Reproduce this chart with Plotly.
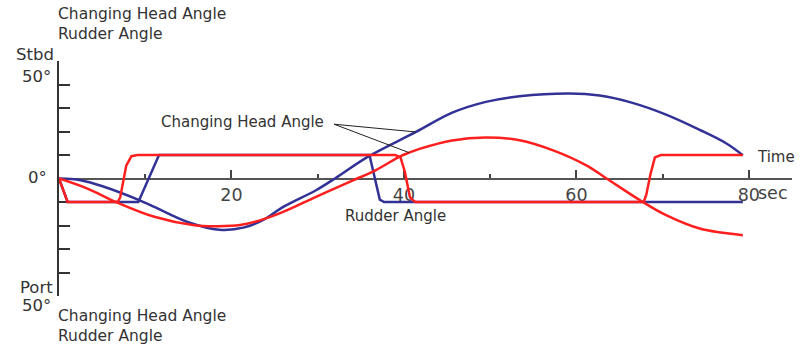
import plotly.graph_objects as go

# ---- data: zig-zag manoeuvre, two ships (red / blue) ----
# heading change (deg, + = starboard) against time (sec)
red_head_t = [0, 3.3, 6.6, 11.05, 15.7, 18.5, 21.0, 23.3, 26.0, 29.8, 33.7, 36.7,
              39.5, 40.6, 41.8, 45.6, 49.5, 53.4, 57.3, 61.1, 63.5, 67.7, 70.4, 74.3, 79.3]
red_head = [0, -4.3, -10.0, -16.3, -19.9, -20.3, -19.8, -17.8, -14.2, -7.8, -1.4, 3.5,
            9.3, 11.0, 12.6, 16.2, 17.4, 16.3, 12.0, 5.7, 0, -10.0, -15.6, -21.3, -24.1]

blue_head_t = [0, 2.5, 5.3, 9.3, 11.05, 14.9, 18.6, 21.5, 23.8, 26.0, 29.8, 32.0,
               35.8, 41.4, 45.6, 49.5, 53.4, 59.2, 62.7, 66.5, 70.4, 74.3, 77.4, 79.3]
blue_head = [0, -0.7, -3.6, -9.2, -12.1, -18.5, -21.8, -20.8, -17.4, -12.1, -5.0, 0,
             9.2, 19.8, 28.0, 32.6, 35.0, 36.2, 35.3, 32.2, 27.2, 20.7, 14.9, 9.9]

# rudder angle (deg)
red_rudder_t = [0, 1.0, 6.8, 7.1, 7.8, 8.4, 9.1, 39.0, 39.6, 40.1, 40.7, 41.3,
                67.8, 68.1, 68.6, 69.1, 69.8, 79.3]
red_rudder = [0, -10, -10, -8, 5.5, 9.5, 10, 10, 9, 3, -8, -10,
              -10, -7, 2, 9, 10, 10]

blue_rudder_t = [0, 1.0, 9.2, 11.6, 36.0, 37.2, 37.7, 79.3]
blue_rudder = [0, -10, -10, 10, 10, -9, -10, -10]

x_ticks = [20, 40, 60, 80]
x_minor = [10, 30, 50, 70]

RED = "#ff1f1f"
BLUE = "#323296"
TXT = "#333333"
FONT = "DejaVu Sans"

# plot area geometry (pixels)
W, H = 800, 348
L, R, T, B = 59, 8, 61, 52
PW, PH = W - L - R, H - T - B


def px(x):
    return (x - L) / PW


def py(y):
    return (H - B - y) / PH


fig = go.Figure()
fig.add_trace(go.Scatter(x=blue_rudder_t, y=blue_rudder, mode="lines",
                         line=dict(color=BLUE, width=2.5), name="blue rudder"))
fig.add_trace(go.Scatter(x=blue_head_t, y=blue_head, mode="lines",
                         line=dict(color=BLUE, width=2.5, shape="spline", smoothing=1.0),
                         name="blue head"))
fig.add_trace(go.Scatter(x=red_head_t, y=red_head, mode="lines",
                         line=dict(color=RED, width=2.5, shape="spline", smoothing=1.0),
                         name="red head"))
fig.add_trace(go.Scatter(x=red_rudder_t, y=red_rudder, mode="lines",
                         line=dict(color=RED, width=2.5), name="red rudder"))

# leader lines from the in-plot label to both heading curves
lead_x, lead_y = 31.9, 23.1
for t_arr, v_arr, idx in ((blue_head_t, blue_head, 13), (red_head_t, red_head, 13)):
    fig.add_shape(type="line", x0=lead_x, y0=lead_y, x1=t_arr[idx], y1=v_arr[idx],
                  line=dict(color="#222222", width=1))

ann = []
# two-line titles above and below the y axis
for y in (24, 326):
    ann.append(dict(text="Changing Head Angle<br>Rudder Angle", xref="paper",
                    yref="paper", x=px(56), y=py(y), xanchor="left",
                    yanchor="middle", align="left", showarrow=False,
                    font=dict(size=15.5, color=TXT, family=FONT)))
# y-axis labels
for text, xr, y in (("Stbd", 56, 54), ("50°", 53, 76), ("0°", 49, 177),
                    ("Port", 55, 287), ("50°", 53, 305)):
    ann.append(dict(text=text, xref="paper", yref="paper", x=px(xr), y=py(y),
                    xanchor="right", yanchor="middle", showarrow=False,
                    font=dict(size=16.5, color=TXT, family=FONT)))
# in-plot labels
ann.append(dict(text="Changing Head Angle", x=11.6, y=24.0, xanchor="left",
                yanchor="middle", showarrow=False,
                font=dict(size=15, color=TXT, family=FONT)))
ann.append(dict(text="Rudder Angle", x=32.9, y=-16.0, xanchor="left",
                yanchor="middle", showarrow=False,
                font=dict(size=15, color=TXT, family=FONT)))
ann.append(dict(text="Time", x=80.7, y=9.1, xanchor="left", yanchor="middle",
                showarrow=False, font=dict(size=15, color=TXT, family=FONT)))
ann.append(dict(text="sec", x=80, y=0, xanchor="left", yanchor="middle",
                xshift=7, yshift=-14, showarrow=False,
                font=dict(size=17.5, color="#444444", family=FONT)))

fig.update_layout(
    width=W, height=H,
    margin=dict(l=L, r=R, t=T, b=B, pad=0),
    paper_bgcolor="white", plot_bgcolor="white",
    showlegend=False,
    annotations=ann,
    xaxis=dict(range=[0, 85], anchor="free", position=0.5, showgrid=False,
               zeroline=False, showline=True, linecolor="#555555", linewidth=2,
               ticks="inside", ticklen=8, tickwidth=1.5, tickcolor="#444444",
               tickvals=x_ticks, ticktext=[str(v) for v in x_ticks],
               tickfont=dict(size=17.5, color="#444444", family=FONT),
               minor=dict(tickvals=x_minor, ticks="inside", ticklen=4,
                          tickwidth=1.5, tickcolor="#444444"),
               layer="below traces", fixedrange=True),
    yaxis=dict(range=[-50, 50], showgrid=False, zeroline=False, showline=True,
               linecolor="#333333", linewidth=2, ticks="inside", ticklen=11,
               tickwidth=1.5, tickcolor="#333333", dtick=10, tick0=0,
               showticklabels=False, layer="below traces", fixedrange=True),
)

fig.write_html("out.html", config={"displayModeBar": False})
